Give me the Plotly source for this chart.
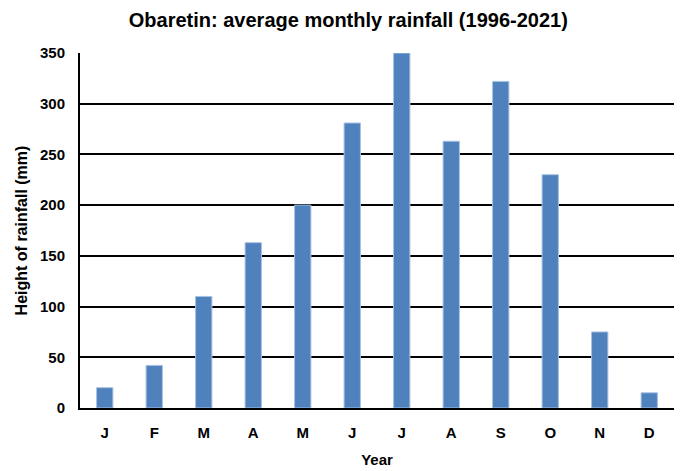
import plotly.graph_objects as go

months = ["J", "F", "M", "A", "M", "J", "J", "A", "S", "O", "N", "D"]
rainfall = [20, 42, 110, 163, 200, 281, 350, 263, 322, 230, 75, 15]
yticks = [0, 50, 100, 150, 200, 250, 300, 350]

# months repeat letters, so plot on positions and label them
pos = list(range(len(months)))

fnt = "Liberation Sans, Arial"

fig = go.Figure()
fig.add_trace(go.Bar(x=pos, y=rainfall, width=0.33,
                     marker=dict(color="#4F81BD", line=dict(color="#a9c2e3", width=1))))

fig.update_layout(
    width=682, height=471,
    margin=dict(l=72, r=16, t=45, b=71),
    paper_bgcolor="white", plot_bgcolor="white",
    showlegend=False,
    title=dict(text="<b>Obaretin: average monthly rainfall (1996-2021)</b>",
               x=0.499, xanchor="center", y=0.974, yanchor="middle",
               font=dict(family=fnt, size=20, color="black")),
    font=dict(family=fnt, color="black"),
)
fig.update_xaxes(tickmode="array", tickvals=pos, ticktext=["<b>%s</b>" % m for m in months],
                 range=[-0.5, 11.5], showline=True, linecolor="black", linewidth=2,
                 showgrid=False, ticks="", tickfont=dict(size=15), automargin=False,
                 ticklabelstandoff=10,
                 title=dict(text="<b>Year</b>", font=dict(size=15), standoff=14))
fig.update_yaxes(tickmode="array", tickvals=yticks, ticktext=["<b>%d</b>" % v for v in yticks],
                 range=[0, 350], showline=True, linecolor="black", linewidth=2,
                 showgrid=True, gridcolor="black", gridwidth=1.5, zeroline=False,
                 ticks="", tickfont=dict(size=15), automargin=False, ticklabelstandoff=10,
                 title=dict(text="<b>Height of rainfall (mm)</b>", font=dict(size=16), standoff=8))

fig.write_html("out.html")
